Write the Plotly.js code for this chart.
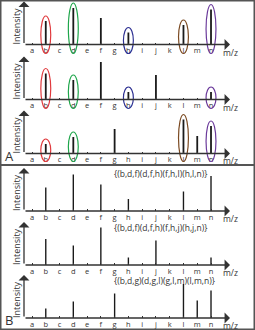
<!DOCTYPE html>
<html><head><meta charset="utf-8">
<script src="https://cdn.plot.ly/plotly-3.0.1.min.js"></script>
<style>html,body{margin:0;padding:0;background:#fff}#chart{width:255px;height:330px}</style>
</head><body><div id="chart"></div>
<script>
const letters = ['a','b','c','d','e','f','g','h','i','j','k','l','m','n'];
const spec1Peaks = ['b','d','f','h','l','n'];
const spec1Vals  = [23.5, 36.5, 26.5, 12, 19.5, 35];
const spec2Peaks = ['b','d','f','h','j','n'];
const spec2Vals  = [26, 19.5, 37.5, 7.5, 24.5, 7.5];
const spec3Peaks = ['b','d','g','l','m','n'];
const spec3Vals  = [9.5, 16.5, 24.5, 34, 17.5, 27.5];
const circled1 = ['b','d','h','l','n'];
const circled2 = ['b','d','h','n'];
const circled3 = ['b','d','l','n'];
const circleColors = {b:'#e03a3e', d:'#1fa64b', h:'#2e3192', l:'#7b4a22', n:'#6b3a9b'};
const tupleLabels = ['{(b,d,f)(d,f,h)(f,h,l)(h,l,n)}','{(b,d,f)(d,f,h)(f,h,j)(h,j,n)}','{(b,d,g)(d,g,l)(g,l,m)(l,m,n)}'];
const panelLetters = ['A','B'];

const W = 255, H = 330;
const FONT = 'Open Sans, Liberation Sans, sans-serif';
const INK = '#333';
const TOP = 43;
const xPx0 = 24, xPx1 = 230, aPx = 32, step = 13.77;
const xRange = [(xPx0 - aPx)/step, (xPx1 - aPx)/step];

const spectra = [
  {peaks: spec1Peaks, vals: spec1Vals, circled: circled1, base: 44.5, pad: 13, w: 0.13},
  {peaks: spec2Peaks, vals: spec2Vals, circled: circled2, base: 99.5, pad: 13, w: 0.13},
  {peaks: spec3Peaks, vals: spec3Vals, circled: circled3, base: 153.5, pad: 12, w: 0.13},
  {peaks: spec1Peaks, vals: spec1Vals, circled: [], base: 211, pad: 6, w: 0.1, label: tupleLabels[0]},
  {peaks: spec2Peaks, vals: spec2Vals, circled: [], base: 265, pad: 6, w: 0.1, label: tupleLabels[1]},
  {peaks: spec3Peaks, vals: spec3Vals, circled: [], base: 318, pad: 6, w: 0.1, label: tupleLabels[2]}
];
const py = p => 1 - p / H;
const px = p => p / W;

const data = [], shapes = [], annotations = [];
const layout = {
  width: W, height: H, margin: {l:0, r:0, t:0, b:0},
  paper_bgcolor: '#fff', plot_bgcolor: 'rgba(0,0,0,0)',
  showlegend: false, font: {family: FONT, color: INK},
  shapes, annotations
};

spectra.forEach((s, i) => {
  const n = i + 1;
  const xa = 'x' + (n === 1 ? '' : n), ya = 'y' + (n === 1 ? '' : n);
  const xk = 'xaxis' + (n === 1 ? '' : n), yk = 'yaxis' + (n === 1 ? '' : n);
  data.push({
    type: 'bar', xaxis: xa, yaxis: ya,
    x: s.peaks.map(p => letters.indexOf(p)), y: s.vals,
    width: s.w, marker: {color: '#1a1a1a', line: {width: 0}}, hoverinfo: 'none'
  });
  layout[xk] = {
    domain: [px(xPx0), px(xPx1)], range: xRange, anchor: 'free', position: py(s.base),
    tickvals: letters.map((_, k) => k), ticktext: letters,
    ticks: 'inside', ticklen: 2, tickwidth: 1, tickcolor: INK,
    tickfont: {size: 7.5, color: INK, family: FONT},
    showline: false, showgrid: false, zeroline: false, fixedrange: true
  };
  layout[yk] = {
    domain: [py(s.base + s.pad), py(s.base - TOP)], range: [-s.pad, TOP], anchor: xa,
    showline: false, showgrid: false, zeroline: false, showticklabels: false, ticks: '', fixedrange: true
  };
  s.circled.forEach(p => {
    const k = letters.indexOf(p);
    const v = s.vals[s.peaks.indexOf(p)];
    shapes.push({type: 'circle', xref: xa, yref: ya, x0: k - 0.36, x1: k + 0.36,
      y0: -(s.pad - 4), y1: v + 5, line: {color: circleColors[p], width: 1.2}, layer: 'above'});
  });
  annotations.push({xref: 'paper', yref: 'paper', x: px(xPx0), y: py(s.base - TOP), ax: 0, ay: TOP,
    axref: 'pixel', ayref: 'pixel', text: '', showarrow: true, arrowhead: 1, arrowsize: 1.4, arrowwidth: 1.3, arrowcolor: INK});
  annotations.push({xref: 'paper', yref: 'paper', x: px(xPx1), y: py(s.base), ax: -(xPx1 - xPx0), ay: 0,
    axref: 'pixel', ayref: 'pixel', text: '', showarrow: true, arrowhead: 1, arrowsize: 1.4, arrowwidth: 1.3, arrowcolor: INK});
  annotations.push({xref: 'paper', yref: 'paper', x: px(230), y: py(s.base + 7.5), text: 'm/z', showarrow: false,
    font: {size: 8.5, color: INK, family: FONT}, xanchor: 'center', yanchor: 'middle'});
  annotations.push({xref: 'paper', yref: 'paper', x: px(16), y: py(s.base - 18), text: 'Intensity', showarrow: false,
    textangle: -90, font: {size: 9, color: INK, family: FONT}, xanchor: 'center', yanchor: 'middle'});
  if (s.label) {
    annotations.push({xref: 'paper', yref: 'paper', x: px(112), y: py(s.base - 38), text: s.label, showarrow: false,
      font: {size: 8.5, color: INK, family: FONT}, xanchor: 'left', yanchor: 'middle'});
  }
});

annotations.push({xref: 'paper', yref: 'paper', x: px(9), y: py(156), text: panelLetters[0], showarrow: false,
  font: {size: 13, color: INK, family: FONT}, xanchor: 'center', yanchor: 'middle'});
annotations.push({xref: 'paper', yref: 'paper', x: px(9), y: py(320), text: panelLetters[1], showarrow: false,
  font: {size: 13, color: INK, family: FONT}, xanchor: 'center', yanchor: 'middle'});

shapes.push({type: 'rect', xref: 'paper', yref: 'paper', x0: px(0.75), x1: px(254.25), y0: py(329.25), y1: py(0.75),
  line: {color: '#555', width: 1.5}, layer: 'above'});
shapes.push({type: 'line', xref: 'paper', yref: 'paper', x0: 0, x1: 1, y0: py(165), y1: py(165),
  line: {color: '#555', width: 2}, layer: 'above'});

Plotly.newPlot('chart', data, layout, {staticPlot: true, displayModeBar: false});
</script></body></html>
